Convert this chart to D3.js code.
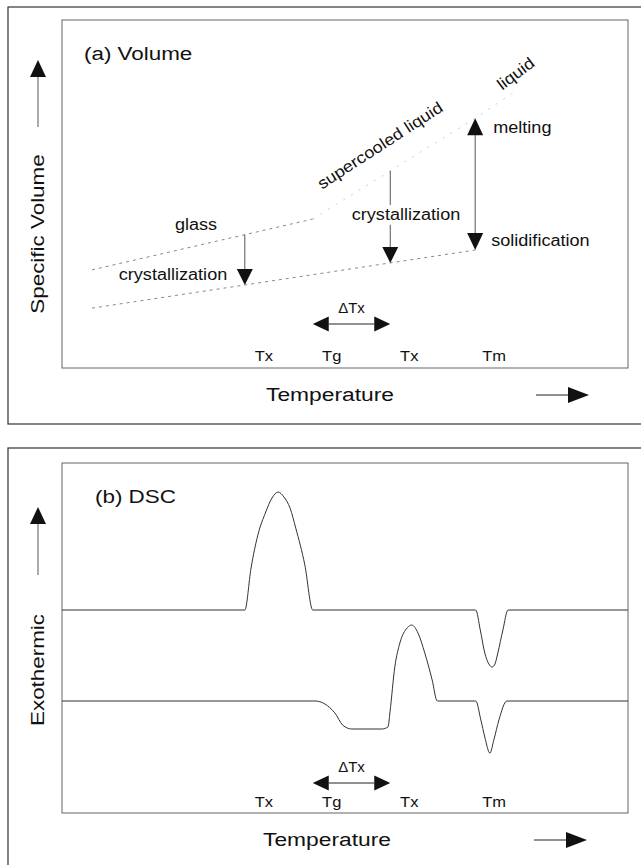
<!DOCTYPE html>
<html>
<head>
<meta charset="utf-8" />
<script src="https://cdn.jsdelivr.net/npm/d3@7"></script>
<style>
html, body { margin: 0; padding: 0; background: #fff; }
svg text { font-family: "Liberation Sans", Arial, Helvetica, sans-serif; fill: #111; }
.frame { fill: none; stroke: #333; stroke-width: 1.2; }
.inner { fill: none; stroke: #666; stroke-width: 1; }
.shaft { stroke: #555; stroke-width: 1; }
.vline { fill: none; stroke: #888; stroke-width: 1; stroke-dasharray: 3,4; }
.vline.faint { stroke: #ccc; stroke-dasharray: 2,7; }
.dsc { fill: none; stroke: #333; stroke-width: 1; }
</style>
</head>
<body>
<div id="chart"></div>
<script>
// temperature axis runs 0..100 across the inner frame (arbitrary units)
var eventNames = ["Tx", "Tg", "Tx", "Tm"];
var eventTemps = [32.3, 44.3, 58.0, 73.0];

// (a) specific volume, arbitrary units 0..100 bottom to top
var glassLine   = [[5.3, 28.2], [44.3, 42.8]];
var liquidLine  = [[44.3, 42.8], [73.0, 71.8], [80.0, 79.4]];
var crystalLine = [[5.3, 17.2], [73.0, 33.9]];

// (b) DSC signal, arbitrary units 0..100 bottom to top
var dscUpper = [
  [0, 58.0], [32.3, 58.0], [33.4, 70.0], [34.6, 79.4], [36.0, 86.0], [37.1, 90.0],
  [38.2, 91.7], [39.2, 90.3], [40.3, 87.1], [41.3, 81.4], [42.9, 70.9], [44.3, 58.0],
  [73.1, 58.0], [73.9, 52.3], [74.7, 45.7], [75.4, 42.6], [76.0, 41.7], [76.5, 42.6],
  [77.0, 45.7], [77.9, 52.3], [78.8, 58.0], [100, 58.0]
];
var dscLower = [
  [0, 32.0], [44.7, 32.0], [48.2, 28.6], [49.6, 25.1], [51.2, 24.0], [56.5, 24.0],
  [57.6, 24.6], [57.95, 28.9], [58.8, 41.7], [59.7, 48.6], [61.0, 52.9], [61.8, 53.7],
  [62.9, 51.4], [64.1, 45.7], [65.4, 38.0], [66.3, 32.0], [73.1, 32.0], [74.0, 26.6],
  [74.7, 21.7], [75.6, 17.1], [76.3, 20.9], [77.2, 26.6], [78.6, 32.0], [100, 32.0]
];

var W = 641, H = 865;
var svg = d3.select("#chart").append("svg").attr("width", W).attr("height", H);

var x = d3.scaleLinear().domain([0, 100]).range([62, 628]);
var yVol = d3.scaleLinear().domain([0, 100]).range([368, 20]);
var yDsc = d3.scaleLinear().domain([0, 100]).range([813, 463]);

function label(g, str, px, py, size, anchor, angle, stretch) {
  return g.append("text")
    .attr("transform", "translate(" + px + "," + py + ") rotate(" + (angle || 0) + ") scale(" + (stretch || 1.13) + ",1)")
    .attr("text-anchor", anchor || "middle")
    .style("font-size", size + "px")
    .text(str);
}

// filled arrow head with its tip at (px,py)
function head(g, px, py, dir, len, wid) {
  len = len || 17; wid = wid || 16;
  var ang = {up: -90, down: 90, left: 180, right: 0}[dir];
  g.append("path")
    .attr("d", "M0,0L" + (-len) + "," + (-wid / 2) + "L" + (-len) + "," + (wid / 2) + "Z")
    .attr("transform", "translate(" + px + "," + py + ") rotate(" + ang + ")")
    .attr("fill", "#111");
}

function lineAt(line, t) {
  for (var i = 1; i < line.length; i++) {
    if (t <= line[i][0] || i === line.length - 1) {
      var a = line[i - 1], b = line[i];
      return a[1] + (b[1] - a[1]) * (t - a[0]) / (b[0] - a[0]);
    }
  }
}

// frames
svg.append("rect").attr("class", "frame").attr("x", 8).attr("y", 7).attr("width", 645).attr("height", 417);
svg.append("rect").attr("class", "frame").attr("x", 8).attr("y", 448).attr("width", 645).attr("height", 430);
svg.append("rect").attr("class", "inner").attr("x", x(0)).attr("y", yVol(100)).attr("width", x(100) - x(0)).attr("height", yVol(0) - yVol(100));
svg.append("rect").attr("class", "inner").attr("x", x(0)).attr("y", yDsc(100)).attr("width", x(100) - x(0)).attr("height", yDsc(0) - yDsc(100));

// shared axis furniture for both panels
function axisBits(g, title, yTitle, yArrowTip, yArrowEnd, yTitleMid, ySub, yDelta, yTicks) {
  label(g, title, yTitle[0], yTitle[1], 19, "start", 0, 1.18);
  // up arrow + y title
  head(g, 38, yArrowTip, "up", 17, 16);
  g.append("line").attr("class", "shaft").attr("x1", 38).attr("x2", 38)
    .attr("y1", yArrowTip + 17).attr("y2", yArrowEnd);
  label(g, ySub, 44, yTitleMid, 19, "middle", -90, 1.18);
  // ΔTx between Tg and the second Tx
  var xa = x(eventTemps[1]), xb = x(eventTemps[2]);
  g.append("line").attr("class", "shaft").attr("x1", xa + 16).attr("x2", xb - 16)
    .attr("y1", yDelta).attr("y2", yDelta).style("stroke", "#222");
  head(g, xa, yDelta, "left", 16, 15);
  head(g, xb, yDelta, "right", 16, 15);
  label(g, "\u0394Tx", (xa + xb) / 2, yDelta - 11, 15, "middle", 0, 1.0);
  // temperature markers
  g.selectAll("text.tick").data(eventNames).enter().append("text")
    .attr("class", "tick")
    .attr("transform", function(d, i) { return "translate(" + (x(eventTemps[i]) + 19) + "," + yTicks + ") scale(1.1,1)"; })
    .attr("text-anchor", "middle")
    .style("font-size", "15px")
    .text(function(d) { return d; });
}

// ---------- (a) Volume ----------
var ga = svg.append("g");
axisBits(ga, "(a) Volume", [84, 60], 60, 127, 234, "Specific Volume", 324, 361);
label(ga, "Temperature", 330, 401, 19, "middle", 0, 1.2);
ga.append("line").attr("class", "shaft").attr("x1", 536).attr("x2", 569).attr("y1", 395).attr("y2", 395).style("stroke", "#222");
head(ga, 589, 395, "right", 21, 16);

var vline = d3.line().x(function(d) { return x(d[0]); }).y(function(d) { return yVol(d[1]); });
ga.append("path").attr("class", "vline").attr("d", vline(glassLine));
ga.append("path").attr("class", "vline faint").attr("d", vline(liquidLine));
ga.append("path").attr("class", "vline").attr("d", vline(crystalLine));

// crystallization from glass
var t1 = eventTemps[0];
var y1a = yVol(lineAt(glassLine, t1)), y1b = yVol(lineAt(crystalLine, t1));
ga.append("line").attr("class", "shaft").attr("x1", x(t1)).attr("x2", x(t1)).attr("y1", y1a).attr("y2", y1b - 15);
head(ga, x(t1), y1b, "down", 16, 16);

// crystallization from supercooled liquid
var t2 = eventTemps[2];
var y2a = yVol(lineAt(liquidLine, t2)), y2b = yVol(lineAt(crystalLine, t2));
ga.append("line").attr("class", "shaft").attr("x1", x(t2)).attr("x2", x(t2)).attr("y1", y2a).attr("y2", y2b - 15);
head(ga, x(t2), y2b, "down", 16, 16);

// melting / solidification
var t3 = eventTemps[3];
var y3a = yVol(lineAt(liquidLine, t3)), y3b = yVol(lineAt(crystalLine, t3));
ga.append("line").attr("class", "shaft").attr("x1", x(t3)).attr("x2", x(t3)).attr("y1", y3a + 16).attr("y2", y3b - 16);
head(ga, x(t3), y3a, "up", 17, 16);
head(ga, x(t3), y3b, "down", 17, 16);

// labels
label(ga, "glass", 196, 230, 16);
label(ga, "crystallization", 173, 280, 16);
var midTxt = label(ga, "crystallization", 406, 220, 16);
var bb = midTxt.node().getBBox();
ga.insert("rect", function() { return midTxt.node(); })
  .attr("x", 406 - bb.width * 1.13 / 2 - 2).attr("y", 220 + bb.y - 1)
  .attr("width", bb.width * 1.13 + 4).attr("height", bb.height + 2)
  .attr("fill", "#fff");
label(ga, "melting", x(t3) + 18, 133, 16, "start");
label(ga, "solidification", x(t3) + 16, 246, 16, "start");
label(ga, "supercooled liquid", 383, 150, 16, "middle", -33);
label(ga, "liquid", 519, 78, 16, "middle", -37);

// ---------- (b) DSC ----------
var gb = svg.append("g");
axisBits(gb, "(b) DSC", [95, 503], 507, 575, 670, "Exothermic", 783, 807);
label(gb, "Temperature", 327, 846, 19, "middle", 0, 1.2);
gb.append("line").attr("class", "shaft").attr("x1", 534).attr("x2", 567).attr("y1", 840).attr("y2", 840).style("stroke", "#222");
head(gb, 587, 840, "right", 21, 16);

var dline = d3.line().curve(d3.curveMonotoneX)
  .x(function(d) { return x(d[0]); }).y(function(d) { return yDsc(d[1]); });
gb.append("path").attr("class", "dsc").attr("d", dline(dscUpper));
gb.append("path").attr("class", "dsc").attr("d", dline(dscLower));
</script>
</body>
</html>
